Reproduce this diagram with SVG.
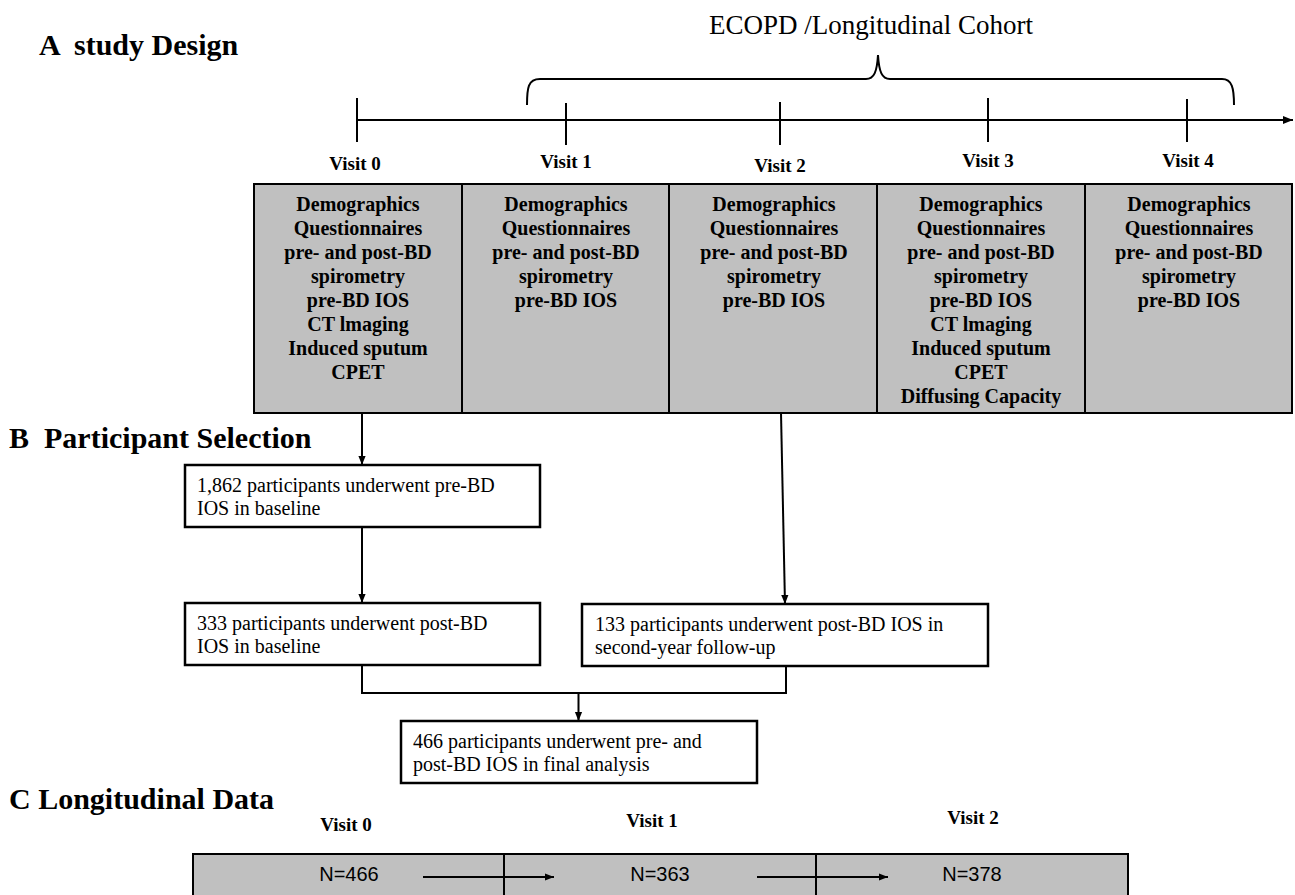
<svg xmlns="http://www.w3.org/2000/svg" width="1295" height="895" viewBox="0 0 1295 895">
<defs>
<style>
.head{font-family:"Liberation Serif",serif;font-weight:bold;font-size:30px;fill:#000;white-space:pre}
.title{font-family:"Liberation Serif",serif;font-size:27px;fill:#000}
.visit{font-family:"Liberation Serif",serif;font-weight:bold;font-size:19px;fill:#000;text-anchor:middle}
.cell{fill:#c0c0c0;stroke:#000;stroke-width:2}
.ct{font-family:"Liberation Serif",serif;font-weight:bold;font-size:20px;fill:#000;text-anchor:middle}
.box{fill:#fff;stroke:#000;stroke-width:2.5}
.bt{font-family:"Liberation Serif",serif;font-size:20px;fill:#000}
.nt{font-family:"Liberation Sans",Arial,sans-serif;font-size:20px;fill:#000;text-anchor:middle}
.ln{fill:none;stroke:#000;stroke-width:2}
</style>
<marker id="ah" viewBox="0 0 10 10" refX="10" refY="5" markerWidth="13" markerHeight="10" markerUnits="userSpaceOnUse" orient="auto">
<path d="M0,1 L10,5 L0,9 Z" fill="#000"/>
</marker>
<marker id="ahs" viewBox="0 0 10 10" refX="10" refY="5" markerWidth="11" markerHeight="9" markerUnits="userSpaceOnUse" orient="auto">
<path d="M0,1 L10,5 L0,9 Z" fill="#000"/>
</marker>
</defs>
<rect width="1295" height="895" fill="#fff"/>

<!-- Headings -->
<text class="head" x="39" y="55">A  study Design</text>
<text class="head" x="9" y="448">B  Participant Selection</text>
<text class="head" x="9" y="809" font-size="29">C Longitudinal Data</text>
<text class="title" x="871" y="34" text-anchor="middle">ECOPD /Longitudinal Cohort</text>

<!-- Timeline -->
<g id="timeline">
<line class="ln" x1="357" y1="120" x2="1293" y2="120" marker-end="url(#ah)"/>
<line class="ln" x1="357" y1="98" x2="357" y2="142"/>
<line class="ln" x1="566" y1="103" x2="566" y2="145"/>
<line class="ln" x1="780" y1="102" x2="780" y2="145"/>
<line class="ln" x1="988" y1="98" x2="988" y2="142"/>
<line class="ln" x1="1187" y1="99" x2="1187" y2="142"/>
<path class="ln" d="M527,105 C527,88 528,79 540,79 L866,79 C874,79 877,72 878,55 C879,72 882,79 890,79 L1222,79 C1232,79 1234,88 1234,105"/>
<text class="visit" x="355" y="170">Visit 0</text>
<text class="visit" x="566" y="168">Visit 1</text>
<text class="visit" x="780" y="172">Visit 2</text>
<text class="visit" x="988" y="167">Visit 3</text>
<text class="visit" x="1188" y="167">Visit 4</text>
</g>

<!-- Study design table -->
<g id="visit0-col">
<rect class="cell" x="254" y="184" width="208" height="229"/>
<text class="ct"><tspan x="358" y="211">Demographics</tspan><tspan x="358" y="235">Questionnaires</tspan><tspan x="358" y="259">pre- and post-BD</tspan><tspan x="358" y="283">spirometry</tspan><tspan x="358" y="307">pre-BD IOS</tspan><tspan x="358" y="331">CT lmaging</tspan><tspan x="358" y="355">Induced sputum</tspan><tspan x="358" y="379">CPET</tspan></text>
</g>
<g id="visit1-col">
<rect class="cell" x="462" y="184" width="207" height="229"/>
<text class="ct"><tspan x="566" y="211">Demographics</tspan><tspan x="566" y="235">Questionnaires</tspan><tspan x="566" y="259">pre- and post-BD</tspan><tspan x="566" y="283">spirometry</tspan><tspan x="566" y="307">pre-BD IOS</tspan></text>
</g>
<g id="visit2-col">
<rect class="cell" x="669" y="184" width="208" height="229"/>
<text class="ct"><tspan x="774" y="211">Demographics</tspan><tspan x="774" y="235">Questionnaires</tspan><tspan x="774" y="259">pre- and post-BD</tspan><tspan x="774" y="283">spirometry</tspan><tspan x="774" y="307">pre-BD IOS</tspan></text>
</g>
<g id="visit3-col">
<rect class="cell" x="877" y="184" width="208" height="229"/>
<text class="ct"><tspan x="981" y="211">Demographics</tspan><tspan x="981" y="235">Questionnaires</tspan><tspan x="981" y="259">pre- and post-BD</tspan><tspan x="981" y="283">spirometry</tspan><tspan x="981" y="307">pre-BD IOS</tspan><tspan x="981" y="331">CT lmaging</tspan><tspan x="981" y="355">Induced sputum</tspan><tspan x="981" y="379">CPET</tspan><tspan x="981" y="403">Diffusing Capacity</tspan></text>
</g>
<g id="visit4-col">
<rect class="cell" x="1085" y="184" width="207" height="229"/>
<text class="ct"><tspan x="1189" y="211">Demographics</tspan><tspan x="1189" y="235">Questionnaires</tspan><tspan x="1189" y="259">pre- and post-BD</tspan><tspan x="1189" y="283">spirometry</tspan><tspan x="1189" y="307">pre-BD IOS</tspan></text>
</g>

<!-- Participant selection boxes -->
<g id="box-baseline-pre">
<rect class="box" x="185" y="465" width="355" height="62"/>
<text class="bt"><tspan x="197" y="492">1,862 participants underwent pre-BD</tspan><tspan x="197" y="515">IOS in baseline</tspan></text>
</g>
<g id="box-baseline-post">
<rect class="box" x="185" y="603" width="355" height="62"/>
<text class="bt"><tspan x="197" y="630">333 participants underwent post-BD</tspan><tspan x="197" y="653">IOS in baseline</tspan></text>
</g>
<g id="box-followup">
<rect class="box" x="582" y="604" width="406" height="62"/>
<text class="bt"><tspan x="595" y="631">133 participants underwent post-BD IOS in</tspan><tspan x="595" y="654">second-year follow-up</tspan></text>
</g>
<g id="box-final">
<rect class="box" x="401" y="721" width="356" height="62"/>
<text class="bt"><tspan x="413" y="748">466 participants underwent pre- and</tspan><tspan x="413" y="771">post-BD IOS in final analysis</tspan></text>
</g>

<!-- Longitudinal data -->
<g id="long-visits">
<text class="visit" x="346" y="831">Visit 0</text>
<text class="visit" x="652" y="827">Visit 1</text>
<text class="visit" x="973" y="824">Visit 2</text>
</g>
<g id="long-v0">
<rect class="cell" x="193" y="854" width="311" height="50"/>
<text class="nt" x="349" y="881">N=466</text>
</g>
<g id="long-v1">
<rect class="cell" x="504" y="854" width="312" height="50"/>
<text class="nt" x="660" y="881">N=363</text>
</g>
<g id="long-v2">
<rect class="cell" x="816" y="854" width="312" height="50"/>
<text class="nt" x="972" y="881">N=378</text>
</g>

<!-- Connectors -->
<g id="connectors">
<line class="ln" x1="362" y1="413" x2="362" y2="465" marker-end="url(#ahs)"/>
<line class="ln" x1="362" y1="527" x2="362" y2="603" marker-end="url(#ahs)"/>
<line class="ln" x1="781" y1="413" x2="785" y2="604" marker-end="url(#ahs)"/>
<polyline class="ln" points="362,665 362,693 786,693 786,666"/>
<line class="ln" x1="578.5" y1="693" x2="578.5" y2="721" marker-end="url(#ahs)"/>
<line class="ln" x1="423" y1="877" x2="554" y2="877" marker-end="url(#ahs)"/>
<line class="ln" x1="757" y1="877" x2="888" y2="877" marker-end="url(#ahs)"/>
</g>
</svg>
